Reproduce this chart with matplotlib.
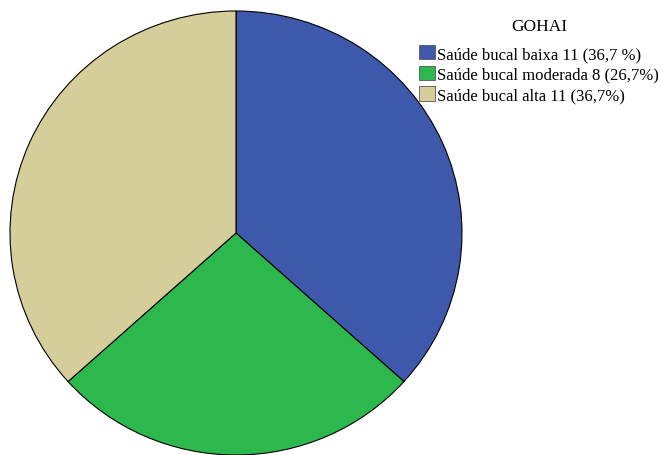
import matplotlib.pyplot as plt
from matplotlib.patches import Patch

#Values:
labels = ["Saúde bucal baixa 11 (36,7 %)",
          "Saúde bucal moderada 8 (26,7%)",
          "Saúde bucal alta 11 (36,7%)"]
counts = [11, 8, 11]
colors = ["#3E58AC", "#2DB84D", "#D5CE9A"]
legend_title = "GOHAI"

plt.rcParams['font.family'] = ['Liberation Serif', 'DejaVu Serif']

fig = plt.figure(figsize=(6.63, 4.56), dpi=100)
ax = fig.add_axes([10/663, 0.0, 452/663, 444/456])
ax.pie(counts, colors=colors, startangle=90, counterclock=False,
       wedgeprops=dict(edgecolor="black", linewidth=0.8))
ax.set_aspect('auto')
ax.set_xlim(-1, 1)
ax.set_ylim(-1, 1)

#legend
handles = [Patch(facecolor=c, edgecolor="#555555", linewidth=0.6) for c in colors]
leg = fig.legend(handles, labels, title=legend_title, loc="upper left",
                 bbox_to_anchor=(419/663, 1 - 19/456), frameon=False,
                 fontsize=12, title_fontsize=12.5,
                 handlelength=0.95, handleheight=0.95, handletextpad=0.12,
                 labelspacing=0.22, borderpad=0, borderaxespad=0)
leg._legend_box.sep = 8  # more room under the title

fig.savefig("out.png", dpi=100)
